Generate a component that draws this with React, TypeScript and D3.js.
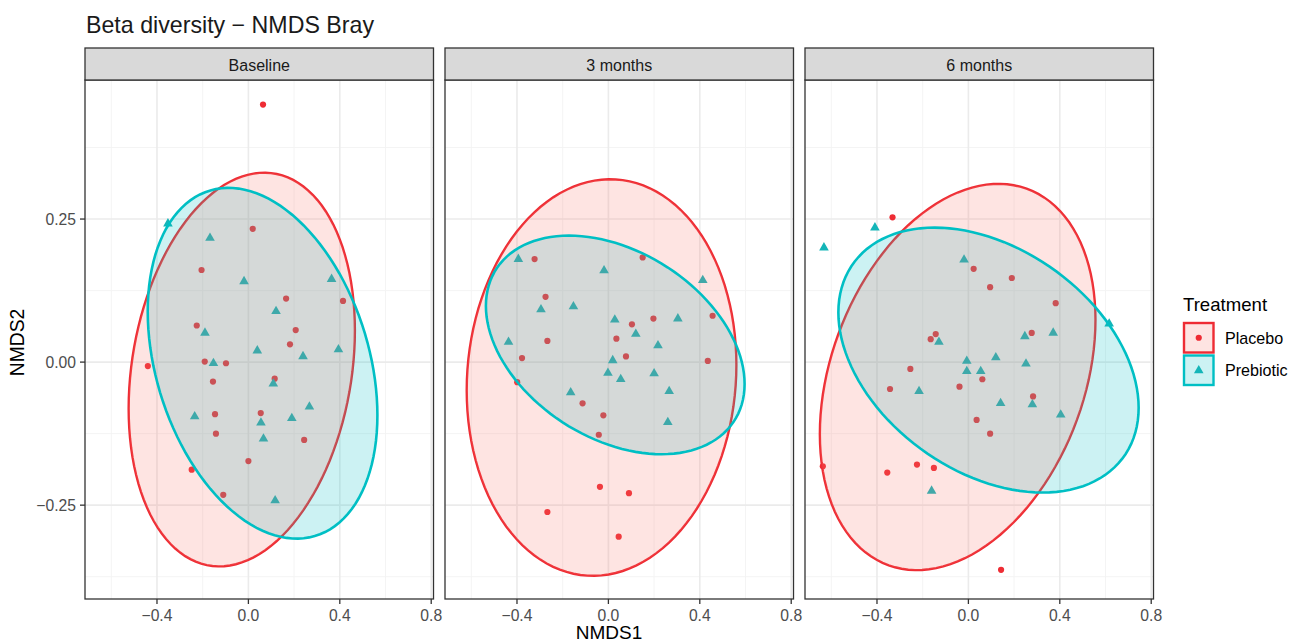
import * as d3 from "d3";

// facet panels
const panels = ["Baseline", "3 months", "6 months"];
const groups = ["Placebo", "Prebiotic"];

// NMDS coordinates, [NMDS1, NMDS2]
const baselinePlacebo: [number, number][] = [
  [0.064, 0.45], [0.019, 0.233], [-0.205, 0.161], [0.165, 0.111], [0.414, 0.107],
  [-0.226, 0.064], [0.207, 0.056], [0.182, 0.031], [-0.191, 0.001], [-0.098, -0.002],
  [-0.44, -0.007], [-0.155, -0.034], [0.115, -0.029], [-0.146, -0.091], [0.054, -0.089],
  [-0.142, -0.125], [0.244, -0.136], [0.0, -0.173], [-0.248, -0.188], [-0.11, -0.232],
];
const baselinePrebiotic: [number, number][] = [
  [-0.352, 0.242], [-0.168, 0.217], [-0.019, 0.141], [0.364, 0.145], [0.121, 0.089],
  [-0.19, 0.051], [0.039, 0.02], [0.394, 0.022], [0.239, 0.01], [-0.153, -0.002],
  [0.109, -0.038], [0.267, -0.078], [-0.235, -0.095], [0.19, -0.098], [0.055, -0.106],
  [0.066, -0.134], [0.117, -0.242],
];
const month3Placebo: [number, number][] = [
  [-0.323, 0.18], [0.15, 0.183], [-0.275, 0.114], [0.456, 0.081], [0.197, 0.076],
  [0.103, 0.066], [0.035, 0.041], [-0.267, 0.037], [-0.378, 0.007], [0.077, 0.01],
  [0.435, 0.002], [-0.399, -0.035], [-0.113, -0.072], [-0.022, -0.093], [-0.042, -0.127],
  [-0.037, -0.218], [0.09, -0.229], [-0.267, -0.262], [0.045, -0.305],
];
const month3Prebiotic: [number, number][] = [
  [-0.394, 0.18], [-0.019, 0.16], [0.413, 0.143], [-0.295, 0.092], [-0.153, 0.097],
  [0.304, 0.076], [0.028, 0.074], [0.12, 0.049], [-0.437, 0.035], [0.217, 0.029],
  [0.019, 0.003], [-0.002, -0.019], [0.054, -0.03], [0.2, -0.02], [0.266, -0.051],
  [-0.165, -0.053], [0.26, -0.105],
];
const month6Placebo: [number, number][] = [
  [-0.332, 0.253], [0.023, 0.163], [0.19, 0.147], [0.095, 0.131], [0.382, 0.103],
  [0.277, 0.051], [-0.143, 0.049], [-0.165, 0.04], [-0.254, -0.012], [0.061, -0.03],
  [-0.343, -0.047], [-0.039, -0.043], [0.283, -0.06], [0.036, -0.101], [0.095, -0.125],
  [-0.637, -0.182], [-0.225, -0.179], [-0.151, -0.185], [-0.355, -0.193], [0.143, -0.363],
];
const month6Prebiotic: [number, number][] = [
  [-0.632, 0.2], [-0.409, 0.235], [-0.019, 0.179], [0.616, 0.067], [0.371, 0.051],
  [0.247, 0.045], [-0.129, 0.035], [-0.007, 0.002], [0.12, 0.008], [0.252, -0.003],
  [-0.007, -0.016], [0.054, -0.016], [-0.216, -0.051], [0.28, -0.074], [0.141, -0.072],
  [0.404, -0.092], [-0.161, -0.225],
];

// ellipse estimates: [centre x, centre y, half width, half height, correlation]
const placeboEllipses = [
  [-0.029, -0.013, 0.495, 0.344, 0.198],
  [-0.03, -0.027, 0.59, 0.3465, 0.064],
  [-0.047, -0.026, 0.603, 0.3375, 0.296],
];
const prebioticEllipses = [
  [0.062, -0.002, 0.5025, 0.3065, -0.296],
  [0.03, 0.03, 0.566, 0.191, -0.357],
  [0.088, 0.0035, 0.657, 0.2315, -0.36],
];

const xTicks = [-0.4, 0, 0.4, 0.8];
const xMinor = [-0.6, -0.2, 0.2, 0.6];
const yTicks = [-0.25, 0, 0.25];
const yMinor = [-0.375, -0.125, 0.125, 0.375];

const pointsByPanel = [
  [baselinePlacebo, baselinePrebiotic],
  [month3Placebo, month3Prebiotic],
  [month6Placebo, month6Prebiotic],
];

const RED = "#EE2C34";
const RED_FILL = "#F8766D";
const CYAN = "#00BFC4";
const CYAN_PT = "#14B5B8";
const FONT = "'Liberation Sans', Arial, Helvetica, sans-serif";

const width = 1302;
const height = 644;
const panelLeft = 85;
const panelW = 348.5;
const panelGap = 11.5;
const stripTop = 48;
const panelTop = 80;
const panelBottom = 599;

const y = d3.scaleLinear().domain([-0.414, 0.493]).range([panelBottom, panelTop]);
const fmtY = (v: number) => d3.format(".2f")(v).replace("-", "\u2212");
const fmtX = (v: number) => d3.format(".1f")(v).replace("-", "\u2212");
const triangle = d3.symbol(d3.symbolTriangle, 40)()!;

function ellipsePath(e: number[], x: d3.ScaleLinear<number, number>) {
  const [cx, cy, sx, sy, rho] = e;
  const ts = d3.range(0, 121).map((i) => (i / 120) * Math.PI * 2);
  const pts = ts.map((t) => [
    x(cx + sx * Math.cos(t)),
    y(cy + sy * (rho * Math.cos(t) + Math.sqrt(1 - rho * rho) * Math.sin(t))),
  ] as [number, number]);
  return d3.line()(pts) + "Z";
}

function Panel({ idx }: { idx: number }) {
  const left = panelLeft + idx * (panelW + panelGap);
  const x = d3.scaleLinear().domain([-0.715, 0.81]).range([left, left + panelW]);
  const [plc, pre] = pointsByPanel[idx];
  const clipId = `clip-${idx}`;
  const redPath = ellipsePath(placeboEllipses[idx], x);
  const cyanPath = ellipsePath(prebioticEllipses[idx], x);
  return (
    <g>
      <clipPath id={clipId}>
        <rect x={left} y={panelTop} width={panelW} height={panelBottom - panelTop} />
      </clipPath>
      <rect x={left} y={panelTop} width={panelW} height={panelBottom - panelTop} fill="#fff" />
      {xMinor.map((v) => (
        <line key={"xm" + v} x1={x(v)} x2={x(v)} y1={panelTop} y2={panelBottom} stroke="#F3F3F3" strokeWidth={0.9} />
      ))}
      {yMinor.map((v) => (
        <line key={"ym" + v} x1={left} x2={left + panelW} y1={y(v)} y2={y(v)} stroke="#F3F3F3" strokeWidth={0.9} />
      ))}
      {xTicks.map((v) => (
        <line key={"xg" + v} x1={x(v)} x2={x(v)} y1={panelTop} y2={panelBottom} stroke="#EBEBEB" strokeWidth={1.6} />
      ))}
      {yTicks.map((v) => (
        <line key={"yg" + v} x1={left} x2={left + panelW} y1={y(v)} y2={y(v)} stroke="#EBEBEB" strokeWidth={1.6} />
      ))}
      <g clipPath={`url(#${clipId})`}>
        {plc.map((d, i) => (
          <circle key={"p" + i} cx={x(d[0])} cy={y(d[1])} r={3.1} fill={RED} />
        ))}
        {pre.map((d, i) => (
          <path key={"t" + i} d={triangle} transform={`translate(${x(d[0])},${y(d[1])})`} fill={CYAN_PT} />
        ))}
        <path d={redPath} fill="none" stroke={RED} strokeWidth={2.4} />
        <path d={cyanPath} fill={CYAN} fillOpacity={0.2} stroke="none" />
        <path d={redPath} fill={RED_FILL} fillOpacity={0.2} stroke="none" />
        <path d={cyanPath} fill="none" stroke={CYAN} strokeWidth={2.6} />
      </g>
      <rect x={left} y={panelTop} width={panelW} height={panelBottom - panelTop} fill="none" stroke="#333" strokeWidth={1.3} />
      <rect x={left} y={stripTop} width={panelW} height={panelTop - stripTop} fill="#D9D9D9" stroke="#333" strokeWidth={1.3} />
      <text x={left + panelW / 2} y={70.5} textAnchor="middle" fontSize={16} fill="#1A1A1A">
        {panels[idx]}
      </text>
      {xTicks.map((v) => (
        <g key={"xt" + v}>
          <line x1={x(v)} x2={x(v)} y1={panelBottom} y2={panelBottom + 5} stroke="#333" strokeWidth={1.3} />
          <text x={x(v)} y={620.5} textAnchor="middle" fontSize={15.7} fill="#4D4D4D">
            {fmtX(v)}
          </text>
        </g>
      ))}
    </g>
  );
}

export default function App() {
  return (
    <svg
      width={width}
      height={height}
      style={{ position: "absolute", left: 0, top: 0, background: "#fff" }}
      fontFamily={FONT}
    >
      <rect width={width} height={height} fill="#fff" />
      <text x={86} y={33} fontSize={23.2} fill="#1A1A1A">
        Beta diversity − NMDS Bray
      </text>
      {panels.map((p, i) => (
        <Panel key={p} idx={i} />
      ))}
      {yTicks.map((v) => (
        <g key={"yt" + v}>
          <line x1={panelLeft - 5} x2={panelLeft} y1={y(v)} y2={y(v)} stroke="#333" strokeWidth={1.3} />
          <text x={76} y={y(v)} dy="0.36em" textAnchor="end" fontSize={15.7} fill="#4D4D4D">
            {fmtY(v)}
          </text>
        </g>
      ))}
      <text x={609} y={639} textAnchor="middle" fontSize={19} fill="#000">
        NMDS1
      </text>
      <text transform={`translate(24,${(panelTop + panelBottom) / 2 + 3}) rotate(-90)`} textAnchor="middle" fontSize={19.3} fill="#000">
        NMDS2
      </text>
      {/* legend */}
      <g>
        <text x={1183} y={311} fontSize={18.6} fill="#000">
          Treatment
        </text>
        {groups.map((g, i) => {
          const top = 323 + i * 32.5;
          const isPl = i === 0;
          return (
            <g key={g}>
              <rect x={1184} y={top} width={29.5} height={29.5} fill="#fff" />
              <rect
                x={1184}
                y={top}
                width={29.5}
                height={29.5}
                fill={isPl ? RED_FILL : CYAN}
                fillOpacity={0.2}
                stroke={isPl ? RED : CYAN}
                strokeWidth={2.4}
              />
              {isPl ? (
                <circle cx={1198.75} cy={top + 14.75} r={3.1} fill={RED} />
              ) : (
                <path d={triangle} transform={`translate(1198.75,${top + 15})`} fill={CYAN_PT} />
              )}
              <text x={1225} y={top + 14.75} dy="0.36em" fontSize={16.1} fill="#000">
                {g}
              </text>
            </g>
          );
        })}
      </g>
    </svg>
  );
}
